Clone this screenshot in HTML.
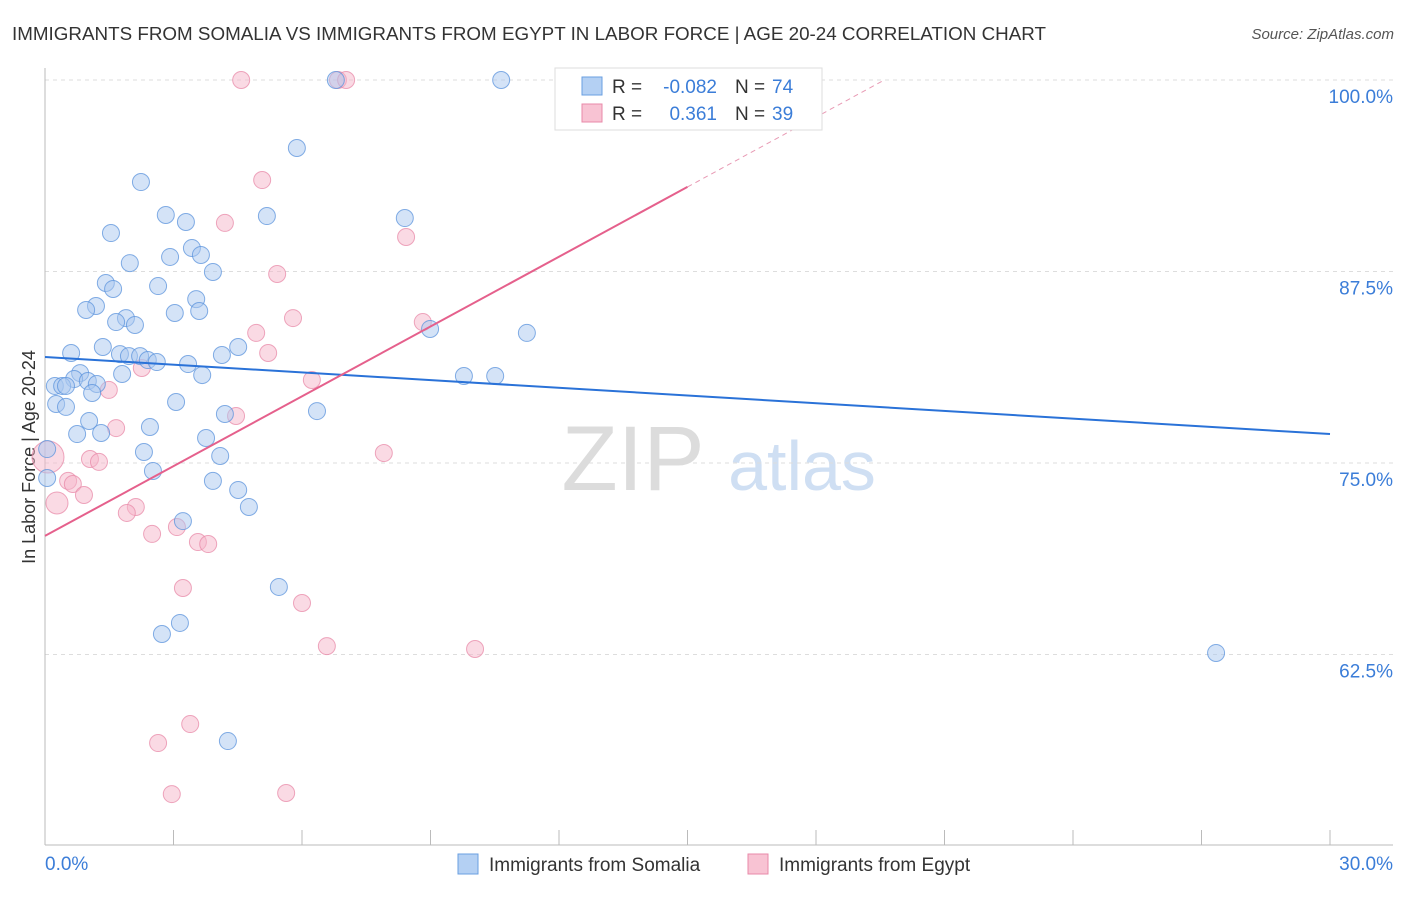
<!DOCTYPE html>
<html><head><meta charset="utf-8"><style>
body{margin:0;background:#fff;font-family:"Liberation Sans",sans-serif;}
svg text{font-family:"Liberation Sans",sans-serif;}
</style></head><body>
<svg id="chart" width="1406" height="892" xmlns="http://www.w3.org/2000/svg">
<text x="12" y="40" font-size="18" fill="#333" textLength="1034" lengthAdjust="spacingAndGlyphs">IMMIGRANTS FROM SOMALIA VS IMMIGRANTS FROM EGYPT IN LABOR FORCE | AGE 20-24 CORRELATION CHART</text>
<text x="1394" y="39" font-size="15" fill="#555" font-style="italic" text-anchor="end">Source: ZipAtlas.com</text>
<text x="35" y="457" font-size="18" fill="#333" text-anchor="middle" transform="rotate(-90 35 457)">In Labor Force | Age 20-24</text>
<g><text x="633" y="490" font-size="92" fill="#dcdcdc" font-family="Liberation Serif" text-anchor="middle">ZIP</text><text x="802" y="490" font-size="70" fill="#cfdff3" text-anchor="middle">atlas</text></g>
<g id="grid"></g><g id="axes"></g><g id="marks"></g>
<g>
<rect x="555" y="68" width="267" height="62" fill="#fff" stroke="#ddd"/>
<rect x="582" y="77" width="20" height="18" fill="#b4d0f3" stroke="#6a9fe0"/>
<rect x="582" y="104" width="20" height="18" fill="#f8c3d3" stroke="#e88aa8"/>
<text x="612" y="93" font-size="19" fill="#333">R =</text>
<text x="717" y="93" font-size="19" fill="#3b7dd8" text-anchor="end">-0.082</text>
<text x="735" y="93" font-size="19" fill="#333">N =</text>
<text x="772" y="93" font-size="19" fill="#3b7dd8">74</text>
<text x="612" y="120" font-size="19" fill="#333">R =</text>
<text x="717" y="120" font-size="19" fill="#3b7dd8" text-anchor="end">0.361</text>
<text x="735" y="120" font-size="19" fill="#333">N =</text>
<text x="772" y="120" font-size="19" fill="#3b7dd8">39</text>
</g>
<g>
<rect x="458" y="854" width="20" height="20" fill="#b4d0f3" stroke="#6a9fe0"/>
<text x="489" y="871" font-size="19" fill="#333">Immigrants from Somalia</text>
<rect x="748" y="854" width="20" height="20" fill="#f8c3d3" stroke="#e88aa8"/>
<text x="779" y="871" font-size="19" fill="#333">Immigrants from Egypt</text>
</g>
</svg>
<script>
const somaliaX=[10.65,6.79,5.88,2.24,2.82,3.29,5.18,8.40,1.54,3.43,2.92,3.64,1.98,3.92,1.42,1.59,2.64,1.19,0.96,3.53,3.03,3.60,1.89,1.66,2.10,8.99,11.25,0.61,1.35,4.51,1.75,1.96,2.22,2.40,2.61,4.13,3.34,1.80,3.67,0.82,0.68,1.00,9.78,10.51,0.23,0.40,0.49,1.21,1.10,0.26,0.49,3.06,6.35,4.20,1.03,2.45,0.75,1.31,3.76,0.05,2.31,4.09,2.52,0.05,3.92,4.51,4.76,3.22,5.46,3.15,2.73,27.34,4.27];
const somaliaY=[100,100,95.56,93.34,91.19,90.73,91.12,90.99,90.01,89.03,88.45,88.58,88.05,87.47,86.75,86.36,86.55,85.25,84.99,85.70,84.79,84.92,84.46,84.20,84.01,83.75,83.49,82.18,82.57,82.57,82.11,81.98,81.98,81.72,81.59,82.05,81.46,80.81,80.74,80.87,80.48,80.35,80.68,80.68,80.03,80.03,80.03,80.16,79.57,78.85,78.66,78.98,78.39,78.20,77.74,77.35,76.89,76.96,76.63,75.91,75.72,75.46,74.48,74.02,73.83,73.24,72.13,71.21,66.91,64.56,63.84,62.60,56.85];
const egyptX=[4.58,6.84,7.03,5.07,4.20,8.43,5.42,5.79,4.93,8.82,5.21,2.26,6.23,1.49,4.46,1.66,7.91,0.07,1.05,1.26,0.54,0.65,0.91,0.28,2.12,1.91,2.50,3.08,3.57,3.81,3.22,6.00,6.58,10.04,3.39,2.64,2.96,5.63];
const egyptY=[100,100,100,93.47,90.67,89.75,87.34,84.46,83.49,84.20,82.18,81.20,80.42,79.77,78.07,77.28,75.65,75.39,75.26,75.07,73.83,73.63,72.91,72.39,72.13,71.74,70.37,70.82,69.84,69.71,66.84,65.86,63.05,62.86,57.96,56.72,53.39,53.46];
const somaliaTrend=[81.92,76.89];
const egyptTrend=[70.24,93.02];
const yTicks=[100,87.5,75,62.5];
const yTickLabels=["100.0%","87.5%","75.0%","62.5%"];
const xTicks=[0,3,6,9,12,15,18,21,24,27,30];
const NS="http://www.w3.org/2000/svg";
const sx=v=>45+v/30*1285;
const sy=v=>80+(100-v)/12.5*191.5;
function mk(tag,attrs,parent){const e=document.createElementNS(NS,tag);for(const k in attrs)e.setAttribute(k,attrs[k]);parent.appendChild(e);return e;}
const grid=document.getElementById('grid'),axes=document.getElementById('axes'),marks=document.getElementById('marks');
yTicks.forEach((t,i)=>{
 const l=mk('line',{x1:45,x2:1393,y1:sy(t),y2:sy(t),stroke:'#ddd','stroke-dasharray':'4 4'},grid);
 
 
 const tx=mk('text',{x:1393,y:sy(t)+23,'font-size':19,fill:'#3b7dd8','text-anchor':'end'},axes);
 tx.textContent=yTickLabels[i];
 
 
});
mk('line',{x1:45,x2:45,y1:68,y2:845,stroke:'#bbb'},axes);
mk('line',{x1:45,x2:1393,y1:845,y2:845,stroke:'#bbb'},axes);
xTicks.forEach(t=>{const l=mk('line',{x1:sx(t),x2:sx(t),y1:830,y2:845,stroke:'#bbb'},axes);
 
 });
const x0=mk('text',{x:45,y:870,'font-size':19,fill:'#3b7dd8'},axes);x0.textContent='0.0%';


const x1=mk('text',{x:1393,y:870,'font-size':19,fill:'#3b7dd8','text-anchor':'end'},axes);x1.textContent='30.0%';


function pts(xs,ys,fill,stroke,name,big){xs.forEach((x,i)=>{
 let r=8.5;
 if(big&&x<0.1&&ys[i]>75&&ys[i]<76){r=16;}
 if(big&&x>0.2&&x<0.35&&ys[i]>72&&ys[i]<73){r=11;}
 const c=mk('circle',{cx:sx(x),cy:sy(ys[i]),r:r,fill:fill,'fill-opacity':0.5,stroke:stroke,'stroke-opacity':0.75,'stroke-width':1},marks);
 
 });}
pts(egyptX,egyptY,'#f6b6ca','#e88aa8','egypt-point',true);
pts(somaliaX,somaliaY,'#a9c8f0','#5b93dc','somalia-point',false);
const bt=mk('line',{x1:sx(0),y1:sy(somaliaTrend[0]),x2:sx(30),y2:sy(somaliaTrend[1]),stroke:'#2a72d8','stroke-width':2},marks);


const slope=(egyptTrend[1]-egyptTrend[0])/15;
const pt=mk('line',{x1:sx(0),y1:sy(egyptTrend[0]),x2:sx(15),y2:sy(egyptTrend[1]),stroke:'#e5608c','stroke-width':2},marks);


const xe=(100-egyptTrend[0])/slope;
const pd=mk('line',{x1:sx(15),y1:sy(egyptTrend[1]),x2:sx(xe),y2:sy(100),stroke:'#e89ab4','stroke-width':1,'stroke-dasharray':'5 4'},marks);


</script>
</body></html>
